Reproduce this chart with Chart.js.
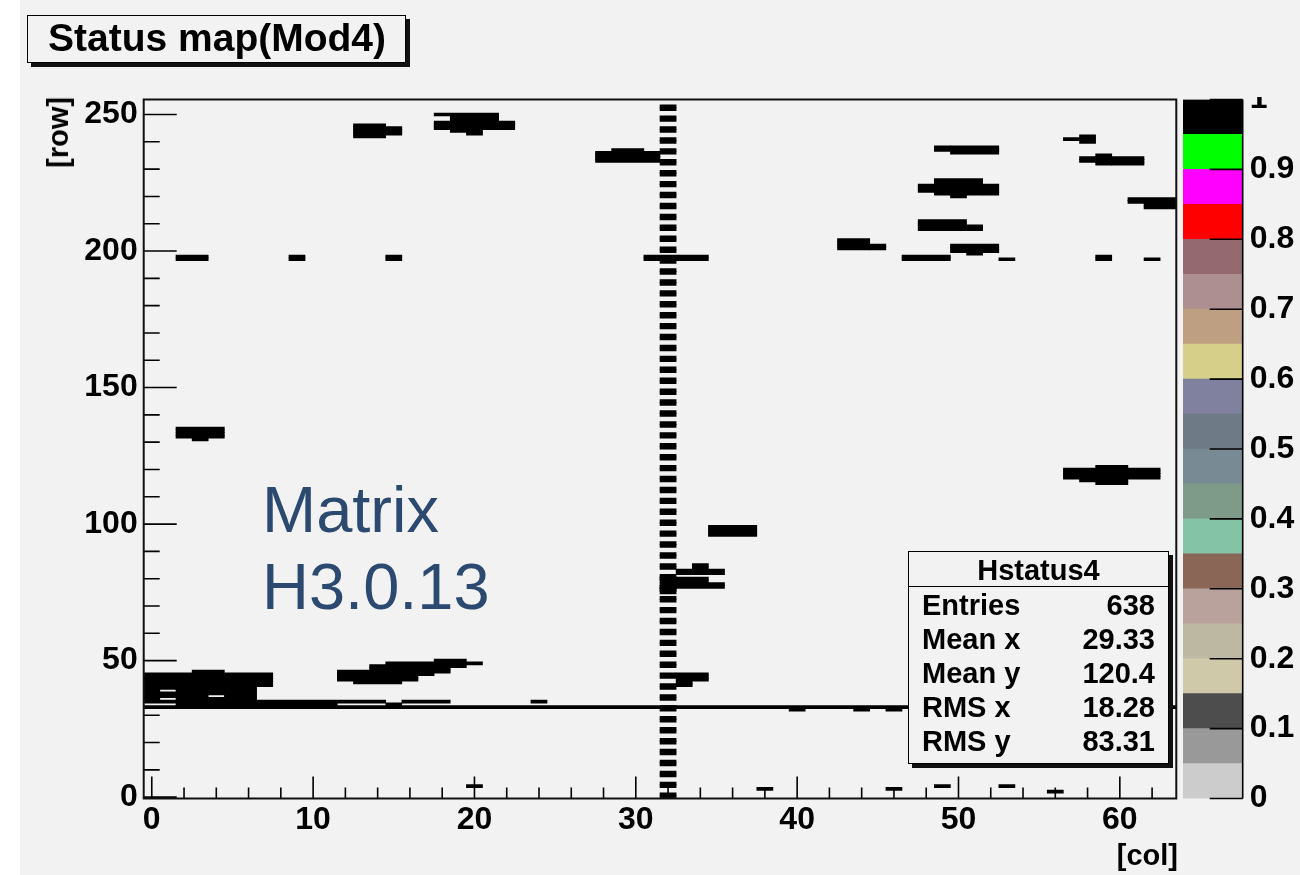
<!DOCTYPE html>
<html>
<head>
<meta charset="utf-8">
<title>Status map(Mod4)</title>
<script src="https://cdn.jsdelivr.net/npm/chart.js@4.4.1/dist/chart.umd.min.js"></script>
<style>
  html, body { margin: 0; padding: 0; background: #ffffff; }
  #page {
    position: relative; width: 1300px; height: 875px; overflow: hidden;
    background: #f2f2f2;
    font-family: "Liberation Sans", Arial, Helvetica, sans-serif;
  }
  #margin { position: absolute; left: 0; top: 0; width: 20px; height: 875px; background: #ffffff; }
  #mainCanvas { position: absolute; left: 0; top: 0; }
  #paletteCanvas { position: absolute; left: 1178px; top: 97px; }
  .pave {
    position: absolute; background: #f2f2f2; border: 1px solid #000;
    box-shadow: 4px 4px 0 #111; box-sizing: border-box;
  }
  #titleBox { left: 27px; top: 15px; width: 379px; height: 48px; }
  #titleBox span {
    position: absolute; left: 20px; top: 3px; font-weight: bold; font-size: 39px;
    line-height: 38px; color: #000; white-space: nowrap;
  }
  #statsBox { left: 908px; top: 551px; width: 261px; height: 213px; z-index: 5; }
  #statsBox .head {
    position: absolute; left: 0; right: 0; top: 0; height: 34px; border-bottom: 1.5px solid #000;
    text-align: center; font-weight: bold; font-size: 29px; line-height: 36px;
  }
  #statsBox .row {
    position: absolute; left: 13px; right: 13px; height: 34px; font-weight: bold;
    font-size: 29px; line-height: 34px; white-space: nowrap;
  }
  #statsBox .row .v { position: absolute; right: 0; top: 0; }
  .axisTitle { position: absolute; font-weight: bold; font-size: 29px; line-height: 29px; white-space: nowrap; }
  #rowTitle { left: 44px; top: 97px; transform-origin: 0 0; transform: rotate(-90deg) translateX(-100%); }
  #colTitle { right: 122px; top: 841px; }
  .note { position: absolute; left: 262px; font-size: 65px; line-height: 65px; color: #2c4a70; white-space: nowrap; }
</style>
</head>
<body>
<div id="page">
  <div id="margin"></div>
  <canvas id="mainCanvas" width="1300" height="875"></canvas>
  <canvas id="paletteCanvas" width="122" height="778"></canvas>

  <div class="pave" id="titleBox"><span>Status map(Mod4)</span></div>

  <div class="axisTitle" id="rowTitle">[row]</div>
  <div class="axisTitle" id="colTitle">[col]</div>

  <div class="note" style="top:477px">Matrix</div>
  <div class="note" style="top:554px">H3.0.13</div>

  <div class="pave" id="statsBox">
    <div class="head">Hstatus4</div>
    <div class="row" style="top:36px">Entries<span class="v">638</span></div>
    <div class="row" style="top:70px">Mean x<span class="v">29.33</span></div>
    <div class="row" style="top:104px">Mean y<span class="v">120.4</span></div>
    <div class="row" style="top:138px">RMS x<span class="v">18.28</span></div>
    <div class="row" style="top:172px">RMS y<span class="v">83.31</span></div>
  </div>
</div>

<script>
// ---- axis ticks ----------------------------------------------------------
const colTickValues = [0, 10, 20, 30, 40, 50, 60];
const colMinorTicks = [2, 4, 6, 8, 12, 14, 16, 18, 22, 24, 26, 28, 32, 34, 36, 38,
                       42, 44, 46, 48, 52, 54, 56, 58, 62];
const rowTickValues = [0, 50, 100, 150, 200, 250];
const rowMinorTicks = [10, 20, 30, 40, 60, 70, 80, 90, 110, 120, 130, 140,
                       160, 170, 180, 190, 210, 220, 230, 240];
const paletteTickValues = [0, 0.1, 0.2, 0.3, 0.4, 0.5, 0.6, 0.7, 0.8, 0.9, 1];

// ---- colour palette (20 contour levels, 0 .. 1) -------------------------
const paletteLevels = [0, 0.05, 0.1, 0.15, 0.2, 0.25, 0.3, 0.35, 0.4, 0.45, 0.5,
                       0.55, 0.6, 0.65, 0.7, 0.75, 0.8, 0.85, 0.9, 0.95, 1];
const paletteColors = ['#cccccc', '#999999', '#4d4d4d', '#cfc8a9', '#bdb8a1', '#b8a29b',
                       '#8a6656', '#84c3a5', '#7d9b88', '#788b95', '#6e7a86', '#80809f',
                       '#d5cf8a', '#bf9f81', '#ad8f92', '#946a70', '#ff0000', '#ff00ff',
                       '#00ff00', '#000000'];

// ---- flagged pixels (status = 1); each entry: [rowFrom, rowTo, colFrom, colTo]
const col32Segments = [[0,1],[4,5],[8,9],[12,13],[16,17],[20,21],[24,25],[28,29],
  [32,33],[36,37],[40,41],[44,45],[48,49],[52,53],[56,57],[60,61],[64,65],[68,69],
  [72,73],[76,77],[80,81],[84,85],[88,89],[92,93],[96,97],[100,101],[104,105],
  [108,109],[112,113],[116,117],[120,121],[124,125],[128,129],[132,133],[136,137],
  [140,141],[144,145],[148,149],[152,153],[156,157],[160,161],[164,165],[168,169],
  [172,173],[176,177],[180,181],[184,185],[188,189],[192,193],[196,197],[200,201],
  [204,205],[208,209],[212,213],[216,217],[220,221],[224,225],[228,229],[232,233],
  [236,237],[240,241],[244,245],[248,249],[252,253]];

const row33Line = [[33, 33, 0, 63]];

const lowLeftCluster = [
  [46, 46, 3, 4], [41, 45, 0, 7], [40, 40, 0, 6],
  [39, 39, 0, 0], [39, 39, 2, 6], [38, 38, 0, 6],
  [37, 37, 0, 3], [37, 37, 5, 6], [36, 36, 0, 0], [36, 36, 2, 6],
  [35, 35, 0, 14], [35, 35, 16, 18], [35, 35, 24, 24],
  [34, 34, 2, 11], [34, 34, 15, 15],
  [32, 32, 40, 40], [32, 32, 44, 44], [32, 32, 46, 46]
];

const lowMidCluster = [
  [50, 50, 18, 19], [49, 49, 15, 20], [48, 48, 14, 19], [47, 47, 14, 18],
  [46, 46, 12, 18], [45, 45, 12, 17], [43, 44, 12, 16], [42, 42, 13, 15],
  [43, 45, 33, 34], [41, 42, 33, 33]
];

const middleClusters = [
  [96, 99, 35, 37],
  [84, 85, 34, 34], [82, 83, 33, 35],
  [79, 80, 33, 34], [77, 78, 33, 35], [75, 80, 32, 32],
  [131, 131, 3, 3], [132, 135, 2, 4],
  [121, 121, 59, 60], [117, 120, 57, 62], [116, 116, 58, 60], [115, 115, 59, 60]
];

const row197Band = [
  [197, 198, 2, 3], [197, 198, 9, 9], [197, 198, 15, 15], [197, 198, 31, 34],
  [197, 198, 47, 49], [197, 197, 53, 53], [197, 198, 59, 59], [197, 197, 62, 62]
];

const upperRightClusters = [
  [201, 204, 43, 44], [201, 202, 45, 45],
  [200, 202, 50, 52], [199, 199, 51, 51],
  [208, 211, 48, 50], [208, 209, 51, 51],
  [221, 226, 49, 51], [220, 220, 50, 50], [222, 224, 48, 48], [221, 224, 52, 52],
  [216, 219, 62, 63], [218, 219, 61, 61],
  [236, 238, 50, 52], [237, 238, 49, 49],
  [233, 234, 58, 58], [232, 235, 59, 59], [232, 234, 60, 61],
  [240, 242, 58, 58], [241, 241, 57, 57]
];

const upperLeftClusters = [
  [242, 246, 13, 14], [243, 245, 15, 15],
  [250, 250, 18, 21], [248, 249, 19, 21], [245, 247, 18, 22], [244, 244, 19, 20], [243, 243, 20, 20],
  [237, 237, 29, 30], [233, 236, 28, 31]
];

const bottomRowHits = [
  [4, 4, 20, 20], [3, 3, 38, 38], [3, 3, 46, 46], [4, 4, 49, 49], [4, 4, 53, 53], [2, 2, 56, 56]
];

// ---- build the cell list: one floating horizontal bar per row run ----------
const allBlocks = []
  .concat(col32Segments.map(s => [s[0], s[1], 32, 32]))
  .concat(row33Line, lowLeftCluster, lowMidCluster, middleClusters,
          row197Band, upperRightClusters, upperLeftClusters, bottomRowHits);

const cellRuns = [];
allBlocks.forEach(([r0, r1, c0, c1]) => {
  for (let r = r0; r <= r1; r++) cellRuns.push({ y: r, x: [c0 - 0.5, c1 + 0.5] });
});

Chart.defaults.font.family = '"Liberation Sans", Arial, Helvetica, sans-serif';
Chart.defaults.color = '#000';

const tickFont = { size: 32, weight: 'bold' };

// ROOT style frame with inward tick marks
const frameTicks = {
  id: 'frameTicks',
  afterDatasetsDraw(chart) {
    const { ctx, chartArea: a, scales: { x, y } } = chart;
    ctx.save();
    ctx.strokeStyle = '#000';
    ctx.lineWidth = 1.6;
    ctx.beginPath();
    colTickValues.forEach(v => { const p = x.getPixelForValue(v); ctx.moveTo(p, a.bottom); ctx.lineTo(p, a.bottom - 22); });
    colMinorTicks.forEach(v => { const p = x.getPixelForValue(v); ctx.moveTo(p, a.bottom); ctx.lineTo(p, a.bottom - 11); });
    rowTickValues.forEach(v => { const p = y.getPixelForValue(v); ctx.moveTo(a.left, p); ctx.lineTo(a.left + 33, p); });
    rowMinorTicks.forEach(v => { const p = y.getPixelForValue(v); ctx.moveTo(a.left, p); ctx.lineTo(a.left + 16, p); });
    ctx.stroke();
    ctx.lineWidth = 2;
    ctx.strokeStyle = '#111';
    ctx.strokeRect(a.left, a.top, a.right - a.left, a.bottom - a.top);
    ctx.restore();
  }
};

new Chart(document.getElementById('mainCanvas'), {
  type: 'bar',
  data: {
    datasets: [{
      label: 'Hstatus4',
      data: cellRuns,
      backgroundColor: '#000000',
      borderWidth: 0,
      barThickness: 3.1,
      inflateAmount: 0.3
    }]
  },
  options: {
    indexAxis: 'y',
    responsive: false,
    animation: false,
    devicePixelRatio: 1,
    layout: { padding: { left: 63.7, right: 123.7, top: 99.5, bottom: 36.5 } },
    plugins: { legend: { display: false }, tooltip: { enabled: false } },
    scales: {
      x: {
        type: 'linear', position: 'bottom', min: -0.5, max: 63.5, offset: false,
        grid: { display: false, drawTicks: false }, border: { display: false },
        ticks: { font: tickFont, color: '#000', padding: 2, maxRotation: 0, autoSkip: false,
                 callback: v => String(v) },
        afterBuildTicks: s => { s.ticks = colTickValues.map(v => ({ value: v })); },
        afterFit: s => { s.height = 40; }
      },
      y: {
        type: 'linear', position: 'left', min: -0.5, max: 255.5, offset: false,
        grid: { display: false, drawTicks: false }, border: { display: false },
        ticks: { font: tickFont, color: '#000', padding: 6, autoSkip: false,
                 callback: v => String(v) },
        afterBuildTicks: s => { s.ticks = rowTickValues.map(v => ({ value: v })); },
        afterFit: s => { s.width = 80; }
      }
    }
  },
  plugins: [frameTicks]
});

// ---- palette (colour scale) ------------------------------------------------
const paletteTicks = {
  id: 'paletteTicks',
  afterDatasetsDraw(chart) {
    const { ctx, chartArea: a, scales: { y } } = chart;
    ctx.save();
    ctx.strokeStyle = '#000';
    ctx.lineWidth = 1.6;
    ctx.beginPath();
    paletteTickValues.forEach(v => { const p = y.getPixelForValue(v); ctx.moveTo(a.right, p); ctx.lineTo(a.right - 33, p); });
    ctx.moveTo(a.right, a.top); ctx.lineTo(a.right, a.bottom);
    ctx.stroke();
    ctx.restore();
  }
};

new Chart(document.getElementById('paletteCanvas'), {
  type: 'bar',
  data: {
    labels: ['z'],
    datasets: paletteColors.map((c, i) => ({
      data: [[paletteLevels[i], paletteLevels[i + 1]]],
      backgroundColor: c,
      borderWidth: 0,
      grouped: false,
      barPercentage: 1,
      categoryPercentage: 1
    }))
  },
  options: {
    responsive: false,
    animation: false,
    devicePixelRatio: 1,
    layout: { padding: { left: 5, right: 0, top: 2.5, bottom: 76.5 } },
    plugins: { legend: { display: false }, tooltip: { enabled: false } },
    scales: {
      x: { display: false },
      y: {
        type: 'linear', position: 'right', min: 0, max: 1,
        grid: { display: false, drawTicks: false }, border: { display: false },
        ticks: { font: tickFont, color: '#000', padding: 7, autoSkip: false,
                 callback: v => String(v) },
        afterBuildTicks: s => { s.ticks = paletteTickValues.map(v => ({ value: v })); },
        afterFit: s => { s.width = 57.3; s.paddingTop = 0; s.paddingBottom = 0; }
      }
    }
  },
  plugins: [paletteTicks]
});
</script>
</body>
</html>
